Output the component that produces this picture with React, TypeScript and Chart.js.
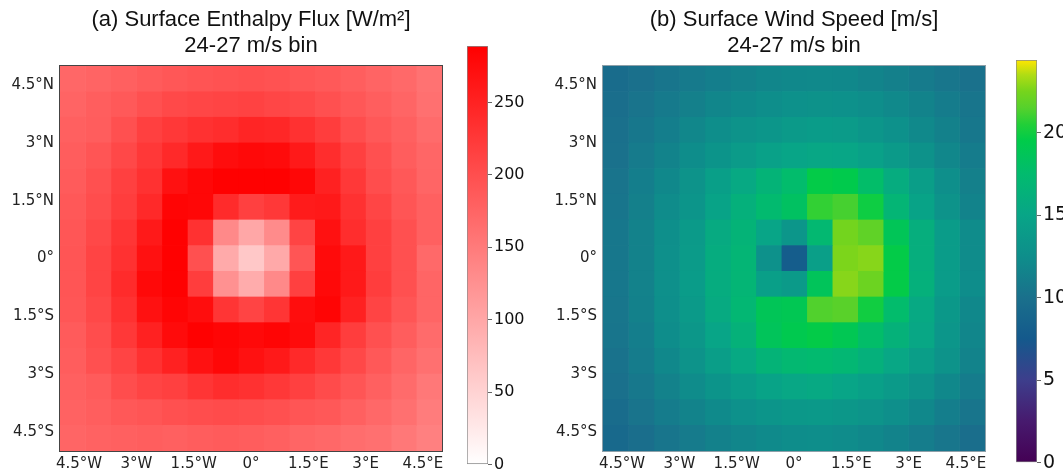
import React, { useEffect, useRef } from "react";
import { Chart, registerables } from "chart.js";
Chart.register(...registerables);

const W = 1063;
const H = 476;

const LON_TICKS = [-4.5, -3, -1.5, 0, 1.5, 3, 4.5];
const LON_LABELS = ["4.5°W", "3°W", "1.5°W", "0°", "1.5°E", "3°E", "4.5°E"];
const LAT_TICKS = [4.5, 3, 1.5, 0, -1.5, -3, -4.5];
const LAT_LABELS = ["4.5°N", "3°N", "1.5°N", "0°", "1.5°S", "3°S", "4.5°S"];
const FLUX_TICKS = [0, 50, 100, 150, 200, 250];
const WIND_TICKS = [0, 5, 10, 15, 20];
const FLUX_MAX = 289;
const WIND_MAX = 24.4;
const GRID_N = 15;
const EXTENT = 5;

const TITLE_A = ["(a) Surface Enthalpy Flux [W/m²]", "24-27 m/s bin"];
const TITLE_B = ["(b) Surface Wind Speed [m/s]", "24-27 m/s bin"];

// rows: north -> south, columns: west -> east
const ENTHALPY = [
  [172, 176, 180, 186, 190, 194, 196, 198, 196, 192, 188, 182, 176, 170, 160],
  [176, 182, 188, 198, 206, 210, 212, 214, 210, 206, 198, 190, 182, 174, 162],
  [180, 184, 198, 216, 225, 234, 238, 247, 245, 234, 220, 202, 189, 180, 168],
  [184, 193, 207, 225, 243, 261, 274, 279, 277, 261, 238, 216, 198, 184, 173],
  [186, 198, 216, 234, 270, 281, 288, 288, 288, 281, 252, 225, 202, 189, 175],
  [189, 202, 220, 243, 283, 281, 240, 216, 225, 258, 261, 234, 211, 193, 180],
  [191, 207, 229, 261, 288, 234, 134, 100, 132, 212, 270, 238, 216, 198, 180],
  [193, 212, 234, 270, 288, 198, 96, 62, 98, 193, 276, 261, 216, 198, 170],
  [193, 212, 240, 279, 288, 220, 125, 94, 134, 216, 279, 261, 220, 198, 175],
  [191, 207, 234, 270, 283, 274, 229, 212, 229, 274, 283, 252, 212, 193, 175],
  [186, 202, 225, 252, 277, 288, 283, 279, 283, 277, 247, 220, 198, 184, 168],
  [184, 198, 212, 234, 252, 270, 281, 270, 261, 243, 225, 207, 189, 175, 162],
  [180, 186, 202, 212, 216, 229, 238, 234, 225, 216, 204, 193, 180, 168, 153],
  [178, 182, 189, 193, 198, 202, 204, 202, 198, 193, 189, 180, 171, 162, 148],
  [175, 178, 180, 182, 180, 184, 186, 184, 180, 175, 171, 166, 162, 153, 144],
];

const WIND = [
  [9.6, 10.0, 10.4, 10.8, 11.2, 11.5, 11.8, 12.0, 12.1, 12.0, 11.7, 11.3, 10.9, 10.5, 10.1],
  [9.8, 10.3, 10.8, 11.3, 11.8, 12.2, 12.5, 12.8, 12.9, 12.8, 12.5, 12.1, 11.6, 11.0, 10.4],
  [10.0, 10.6, 11.2, 11.9, 12.5, 13.0, 13.4, 13.8, 14.0, 13.9, 13.4, 12.8, 12.1, 11.4, 10.6],
  [10.1, 10.9, 11.6, 12.4, 13.2, 13.9, 14.6, 15.0, 15.2, 15.1, 14.6, 13.8, 12.9, 11.9, 11.0],
  [10.3, 11.2, 12.0, 13.0, 14.4, 15.4, 16.6, 17.6, 19.6, 19.4, 17.8, 15.8, 14.2, 12.6, 11.3],
  [10.4, 11.3, 12.3, 13.3, 14.8, 16.2, 17.4, 18.2, 20.8, 21.2, 19.9, 16.8, 14.8, 13.0, 11.6],
  [10.6, 11.5, 12.6, 13.8, 15.6, 16.6, 15.0, 13.4, 17.2, 22.4, 21.8, 18.8, 16.0, 14.0, 12.3],
  [10.6, 11.5, 12.7, 13.9, 15.8, 16.8, 12.8, 7.9, 14.3, 22.6, 22.8, 19.6, 16.0, 14.0, 12.3],
  [10.6, 11.5, 12.7, 14.0, 15.8, 16.8, 14.4, 13.8, 18.6, 22.8, 22.2, 19.6, 16.2, 14.0, 12.4],
  [10.5, 11.4, 12.6, 13.8, 15.6, 17.0, 18.8, 19.0, 21.4, 21.6, 20.0, 17.6, 15.4, 13.6, 12.0],
  [10.4, 11.2, 12.4, 13.5, 15.0, 16.4, 18.6, 19.2, 19.6, 19.0, 17.8, 16.4, 15.2, 13.4, 11.8],
  [10.2, 11.0, 12.0, 13.0, 14.2, 15.4, 16.6, 17.2, 17.4, 17.0, 16.2, 15.2, 14.2, 13.0, 11.6],
  [10.0, 10.7, 11.5, 12.3, 13.2, 14.0, 14.8, 15.2, 15.4, 15.0, 14.5, 13.8, 13.0, 12.0, 11.0],
  [9.6, 10.3, 11.0, 11.6, 12.2, 12.8, 13.3, 13.6, 13.7, 13.5, 13.1, 12.6, 12.0, 11.2, 10.4],
  [9.2, 9.8, 10.4, 10.9, 11.4, 11.8, 12.2, 12.4, 12.5, 12.3, 12.0, 11.6, 11.1, 10.5, 9.8],
];

// colour maps (value stops)
const FLUX_CMAP: [number, string][] = [
  [0, "#ffffff"],
  [FLUX_MAX, "#ff0000"],
];
const WIND_CMAP: [number, string][] = [
  [0, "#440154"],
  [2.5, "#471a6e"],
  [5, "#3d3e8c"],
  [7.5, "#14598c"],
  [10, "#1a708c"],
  [12.5, "#0e8e8b"],
  [15, "#08a587"],
  [17.5, "#02bb6e"],
  [19.5, "#00cb4a"],
  [20.5, "#22cf38"],
  [21.5, "#56d12c"],
  [22.5, "#76d41c"],
  [23.5, "#b0dc14"],
  [24.4, "#ffe600"],
];

const CELL = (2 * EXTENT) / GRID_N;
const LON_EDGES = Array.from({ length: GRID_N + 1 }, (_, i) => -EXTENT + i * CELL);
const ROW_LABELS = Array.from({ length: GRID_N }, (_, i) => (EXTENT - (i + 0.5) * CELL).toFixed(2));

function hexToRgb(h: string) {
  const n = parseInt(h.slice(1), 16);
  return [(n >> 16) & 255, (n >> 8) & 255, n & 255];
}

function colorFor(stops: [number, string][], v: number) {
  if (v <= stops[0][0]) return stops[0][1];
  for (let i = 1; i < stops.length; i++) {
    if (v <= stops[i][0]) {
      const [v0, c0] = stops[i - 1];
      const [v1, c1] = stops[i];
      const t = (v - v0) / (v1 - v0);
      const a = hexToRgb(c0);
      const b = hexToRgb(c1);
      const c = a.map((x, k) => Math.round(x + (b[k] - x) * t));
      return `rgb(${c[0]},${c[1]},${c[2]})`;
    }
  }
  return stops[stops.length - 1][1];
}

const TICK_FONT = { family: "DejaVu Sans", size: 15 };

function framePlugin(color: string) {
  return {
    id: "frame",
    afterDraw(chart: any) {
      const { ctx, chartArea: a } = chart;
      ctx.save();
      ctx.strokeStyle = color;
      ctx.lineWidth = 1;
      ctx.strokeRect(
        Math.round(a.left) - 0.5,
        Math.round(a.top) - 0.5,
        Math.round(a.right - a.left) + 1,
        Math.round(a.bottom - a.top) + 1
      );
      ctx.restore();
    },
  };
}

function heatConfig(
  values: number[][],
  cmap: [number, string][],
  title: string[],
  axisWidth: number,
  padRight: number,
  gridColor: string,
  frameColor: string
): any {
  const datasets = LON_EDGES.slice(0, -1).map((x0, k) => ({
    data: values.map(() => [x0, LON_EDGES[k + 1]]),
    backgroundColor: values.map((row) => colorFor(cmap, row[k])),
    borderWidth: 0,
    grouped: false,
    barPercentage: 1,
    categoryPercentage: 1,
    xAxisID: "x",
    yAxisID: "y",
  }));
  return {
    type: "bar",
    data: { labels: ROW_LABELS, datasets },
    plugins: [framePlugin(frameColor)],
    options: {
      animation: false,
      responsive: false,
      indexAxis: "y",
      layout: { padding: { left: 0, right: padRight, top: 0, bottom: 0 } },
      plugins: {
        legend: { display: false },
        tooltip: { enabled: false },
        title: {
          display: true,
          text: title,
          fullSize: false,
          color: "#111",
          font: { family: "Liberation Sans", size: 22, weight: "normal", lineHeight: 1.18 },
          padding: { top: 7, bottom: 7 },
        },
      },
      scales: {
        x: {
          type: "linear",
          position: "bottom",
          min: -EXTENT,
          max: EXTENT,
          offset: false,
          z: 1,
          afterBuildTicks: (s: any) => {
            s.ticks = LON_TICKS.map((v) => ({ value: v }));
          },
          afterFit: (s: any) => {
            s.height = 25;
          },
          ticks: {
            autoSkip: false,
            maxRotation: 0,
            padding: 4,
            color: "#222",
            font: TICK_FONT,
            callback: (v: number) => LON_LABELS[LON_TICKS.indexOf(v)],
          },
          grid: { color: gridColor, drawTicks: false, lineWidth: 1, offset: false },
          border: { display: false },
        },
        y: {
          type: "category",
          display: false,
          offset: true,
        },
        lat: {
          type: "linear",
          axis: "y",
          position: "left",
          min: -EXTENT,
          max: EXTENT,
          offset: false,
          z: 1,
          afterBuildTicks: (s: any) => {
            s.ticks = LAT_TICKS.map((v) => ({ value: v }));
          },
          afterFit: (s: any) => {
            s.width = axisWidth;
          },
          ticks: {
            padding: 6,
            color: "#222",
            font: TICK_FONT,
            callback: (v: number) => LAT_LABELS[LAT_TICKS.indexOf(v)],
          },
          grid: { color: gridColor, drawTicks: false, lineWidth: 1, offset: false },
          border: { display: false },
        },
      },
    },
  };
}

function colorbarConfig(
  cmap: [number, string][],
  max: number,
  ticks: number[],
  axisWidth: number,
  padTop: number,
  padBottom: number,
  fontSize: number
): any {
  return {
    type: "bar",
    data: {
      labels: [""],
      datasets: [
        {
          data: [[0, max]],
          backgroundColor: (ctx: any) => {
            const chart = ctx.chart;
            if (!chart.chartArea) return "rgba(0,0,0,0)";
            const ys = chart.scales.y;
            const g = chart.ctx.createLinearGradient(0, ys.getPixelForValue(0), 0, ys.getPixelForValue(max));
            cmap.forEach(([v, c]) => g.addColorStop(Math.min(1, v / max), c));
            return g;
          },
          borderColor: "#8a8a8a",
          borderWidth: 1,
          borderSkipped: false,
          barPercentage: 1,
          categoryPercentage: 1,
        },
      ],
    },
    options: {
      animation: false,
      responsive: false,
      layout: { padding: { left: 0, right: 0, top: padTop, bottom: padBottom } },
      plugins: { legend: { display: false }, tooltip: { enabled: false }, title: { display: false } },
      scales: {
        x: { type: "category", display: false, offset: true },
        y: {
          type: "linear",
          position: "right",
          min: 0,
          max,
          offset: false,
          afterBuildTicks: (s: any) => {
            s.ticks = ticks.map((v) => ({ value: v }));
          },
          afterFit: (s: any) => {
            s.width = axisWidth;
          },
          ticks: {
            padding: 2,
            color: "#111",
            font: { family: "DejaVu Sans", size: fontSize },
          },
          grid: { drawOnChartArea: false, drawTicks: true, tickLength: 4, color: "#666" },
          border: { display: false },
        },
      },
    },
  };
}

export default function App() {
  const aRef = useRef<HTMLCanvasElement>(null);
  const caRef = useRef<HTMLCanvasElement>(null);
  const bRef = useRef<HTMLCanvasElement>(null);
  const cbRef = useRef<HTMLCanvasElement>(null);

  useEffect(() => {
    const charts = [
      new Chart(aRef.current as any, heatConfig(ENTHALPY, FLUX_CMAP, TITLE_A, 60, 88, "rgba(255,255,255,0.28)", "#444")),
      new Chart(caRef.current as any, colorbarConfig(FLUX_CMAP, FLUX_MAX, FLUX_TICKS, 42, 46, 7, 16)),
      new Chart(bRef.current as any, heatConfig(WIND, WIND_CMAP, TITLE_B, 73, 78, "rgba(255,255,255,0.1)", "rgba(130,150,160,0.9)")),
      new Chart(cbRef.current as any, colorbarConfig(WIND_CMAP, WIND_MAX, WIND_TICKS, 26, 60, 10, 19)),
    ];
    return () => charts.forEach((c) => c.destroy());
  }, []);

  const abs = (left: number, width: number): React.CSSProperties => ({
    position: "absolute",
    left,
    top: 0,
    width,
    height: H,
  });

  return (
    <div style={{ position: "fixed", left: 0, top: 0, width: W, height: H, background: "#fff", overflow: "hidden" }}>
      <canvas ref={aRef} width={530} height={H} style={abs(0, 530)} />
      <canvas ref={bRef} width={533} height={H} style={abs(530, 533)} />
      <canvas ref={caRef} width={63} height={H} style={abs(467, 63)} />
      <canvas ref={cbRef} width={47} height={H} style={abs(1016, 47)} />
    </div>
  );
}
